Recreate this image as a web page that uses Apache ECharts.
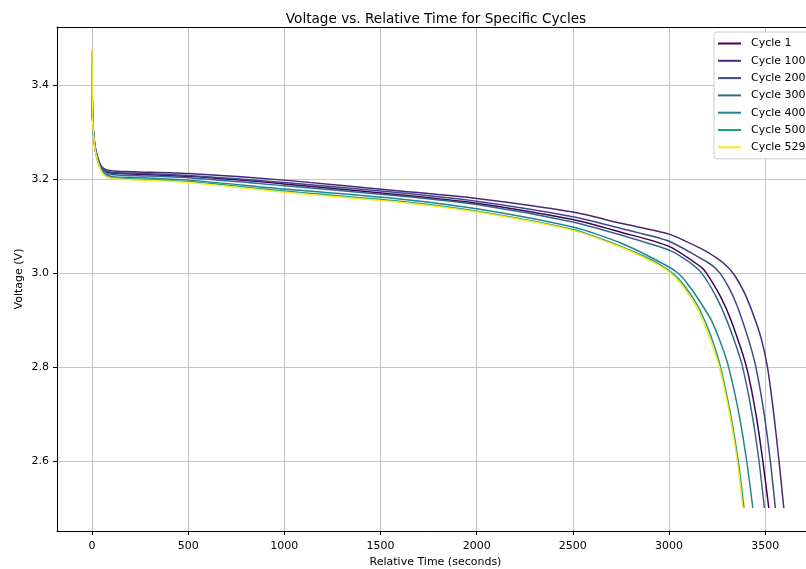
<!DOCTYPE html>
<html>
<head>
<meta charset="utf-8">
<title>Voltage vs. Relative Time</title>
<script src="https://cdn.jsdelivr.net/npm/echarts@6/dist/echarts.min.js"></script>
<style>
  html, body { margin: 0; padding: 0; background: #fff; }
  #chart { width: 806px; height: 569px; }
</style>
</head>
<body>
<div id="chart"></div>
<script>
// cycles shown in the legend and their line colours (viridis-like)
var cycleNames = ['Cycle 1', 'Cycle 100', 'Cycle 200', 'Cycle 300', 'Cycle 400', 'Cycle 500', 'Cycle 529'];
var cycleColors = ['#440154', '#482878', '#3e4989', '#31688e', '#26828e', '#1f9e89', '#fde725'];

// tick labels
var xTicks = [0, 500, 1000, 1500, 2000, 2500, 3000, 3500];
var yTicks = [2.6, 2.8, 3.0, 3.2, 3.4];

// relative time (s) / voltage (V)
var cycle1T = [0, 1, 3, 10, 20, 40, 60, 100, 200, 500, 1000, 1600, 2000, 2500, 2750, 3000, 3167, 3195, 3268, 3322, 3403, 3452, 3488, 3519];
var cycle1V = [3.472, 3.40, 3.33, 3.287, 3.257, 3.228, 3.218, 3.213, 3.211, 3.206, 3.190, 3.167, 3.149, 3.114, 3.087, 3.057, 3.013, 3.0, 2.95, 2.9, 2.8, 2.7, 2.6, 2.5];

var cycle100T = [0, 1, 3, 10, 20, 40, 60, 100, 200, 500, 1000, 1600, 2000, 2500, 2750, 3000, 3167, 3253, 3300, 3340, 3390, 3440, 3480, 3512, 3545, 3572, 3597];
var cycle100V = [3.472, 3.40, 3.33, 3.29, 3.262, 3.234, 3.223, 3.218, 3.216, 3.212, 3.198, 3.175, 3.159, 3.130, 3.106, 3.083, 3.052, 3.031, 3.015, 2.996, 2.96, 2.91, 2.86, 2.80, 2.70, 2.60, 2.50];

var cycle200T = [0, 1, 3, 10, 20, 40, 60, 100, 200, 500, 1000, 1600, 2000, 2500, 2750, 3000, 3167, 3220, 3265, 3310, 3350, 3385, 3420, 3452, 3495, 3527, 3553];
var cycle200V = [3.472, 3.40, 3.33, 3.289, 3.26, 3.232, 3.221, 3.215, 3.213, 3.208, 3.193, 3.171, 3.153, 3.120, 3.095, 3.068, 3.031, 3.018, 3.0, 2.97, 2.935, 2.895, 2.85, 2.8, 2.7, 2.6, 2.5];

var cycle300T = [0, 1, 3, 10, 20, 40, 60, 100, 200, 500, 1000, 1600, 2000, 2500, 2750, 3000, 3100, 3170, 3245, 3300, 3345, 3383, 3432, 3468, 3496];
var cycle300V = [3.472, 3.40, 3.33, 3.288, 3.258, 3.229, 3.217, 3.210, 3.208, 3.203, 3.186, 3.164, 3.146, 3.109, 3.081, 3.049, 3.025, 3.0, 2.95, 2.9, 2.85, 2.8, 2.7, 2.6, 2.5];

var cycle400T = [0, 1, 3, 10, 20, 40, 60, 100, 200, 500, 1000, 1600, 2000, 2500, 2750, 3000, 3060, 3110, 3160, 3220, 3270, 3310, 3364, 3404, 3436];
var cycle400V = [3.472, 3.40, 3.33, 3.287, 3.256, 3.227, 3.214, 3.206, 3.204, 3.198, 3.179, 3.158, 3.137, 3.098, 3.064, 3.013, 2.995, 2.97, 2.94, 2.9, 2.85, 2.8, 2.7, 2.6, 2.5];

var cycle500T = [0, 1, 3, 10, 20, 40, 60, 100, 200, 500, 1000, 1600, 2000, 2500, 2750, 2900, 2980, 3040, 3100, 3150, 3200, 3240, 3268, 3320, 3360, 3390];
var cycle500V = [3.474, 3.40, 3.33, 3.286, 3.255, 3.226, 3.211, 3.203, 3.201, 3.195, 3.175, 3.153, 3.132, 3.093, 3.057, 3.030, 3.011, 2.992, 2.962, 2.93, 2.885, 2.84, 2.8, 2.7, 2.6, 2.5];

var cycle529T = [0, 1, 3, 10, 20, 40, 60, 95, 200, 500, 1000, 1600, 2000, 2500, 2750, 2900, 2975, 3030, 3090, 3140, 3190, 3230, 3262, 3315, 3355, 3384];
var cycle529V = [3.476, 3.40, 3.33, 3.285, 3.254, 3.225, 3.21, 3.202, 3.199, 3.193, 3.172, 3.151, 3.130, 3.091, 3.055, 3.027, 3.010, 2.992, 2.962, 2.93, 2.885, 2.84, 2.8, 2.7, 2.6, 2.5];

var allT = [cycle1T, cycle100T, cycle200T, cycle300T, cycle400T, cycle500T, cycle529T];
var allV = [cycle1V, cycle100V, cycle200V, cycle300V, cycle400V, cycle500V, cycle529V];

var font = 'DejaVu Sans';
var xMin = -182, xMax = 3754;   // plot runs off the right edge in the original

var series = cycleNames.map(function (name, i) {
    var pts = allT[i].map(function (t, k) { return [t, allV[i][k]]; });
    return {
        name: name,
        type: 'line',
        data: pts,
        showSymbol: false,
        smooth: 0.25,
        color: cycleColors[i],
        lineStyle: { width: 1.5, color: cycleColors[i] },
        emphasis: { disabled: true },
        z: 2 + i
    };
});

var myChart = echarts.init(document.getElementById('chart'), null, { renderer: 'canvas' });
myChart.setOption({
    animation: false,
    backgroundColor: '#fff',
    textStyle: { fontFamily: font },
    title: {
        text: 'Voltage vs. Relative Time for Specific Cycles',
        left: 431,
        textAlign: 'center',
        top: 7,
        textStyle: { fontFamily: font, fontSize: 13.6, fontWeight: 'normal', color: '#000' }
    },
    grid: { left: 57, top: 27, right: -8, bottom: 38, outerBoundsMode: 'none' },
    legend: {
        orient: 'vertical',
        left: 714,
        top: 32,
        padding: [5, 40, 5, 4],
        itemWidth: 23,
        itemHeight: 2,
        itemGap: 4.3,
        icon: 'rect',
        backgroundColor: '#fff',
        borderColor: '#cccccc',
        borderWidth: 1,
        borderRadius: 3,
        textStyle: { fontFamily: font, fontSize: 11, color: '#000', lineHeight: 13, padding: [0, 0, 0, 5] },
        data: cycleNames
    },
    xAxis: [{
        type: 'value',
        min: xMin,
        max: xMax,
        name: 'Relative Time (seconds)',
        nameLocation: 'middle',
        nameGap: 26,
        nameMoveOverlap: false,
        nameTextStyle: { fontFamily: font, fontSize: 11, color: '#000' },
        axisLine: { onZero: false, lineStyle: { color: '#000', width: 1 } },
        axisTick: { show: true, length: 4, customValues: xTicks, lineStyle: { color: '#000' } },
        axisLabel: {
            fontFamily: font, fontSize: 11, color: '#000', margin: 10,
            customValues: xTicks,
            formatter: function (v) { return String(v); }
        },
        splitLine: { show: true, lineStyle: { color: '#c4c4c4', width: 1 } }
    }, {
        // top spine only
        type: 'value',
        position: 'top',
        min: xMin,
        max: xMax,
        axisLine: { show: true, onZero: false, lineStyle: { color: '#000', width: 1 } },
        axisTick: { show: false },
        axisLabel: { show: false },
        splitLine: { show: false }
    }],
    yAxis: {
        type: 'value',
        min: 2.451,
        max: 3.524,
        name: 'Voltage (V)',
        nameLocation: 'middle',
        nameGap: 32,
        nameMoveOverlap: false,
        nameTextStyle: { fontFamily: font, fontSize: 11, color: '#000' },
        axisLine: { show: true, onZero: false, lineStyle: { color: '#000', width: 1 } },
        axisTick: { show: true, length: 4, customValues: yTicks, lineStyle: { color: '#000' } },
        axisLabel: {
            fontFamily: font, fontSize: 11, color: '#000', margin: 8,
            customValues: yTicks,
            formatter: function (v) { return v.toFixed(1); }
        },
        splitLine: { show: true, lineStyle: { color: '#c4c4c4', width: 1 } }
    },
    series: series
});
</script>
</body>
</html>
